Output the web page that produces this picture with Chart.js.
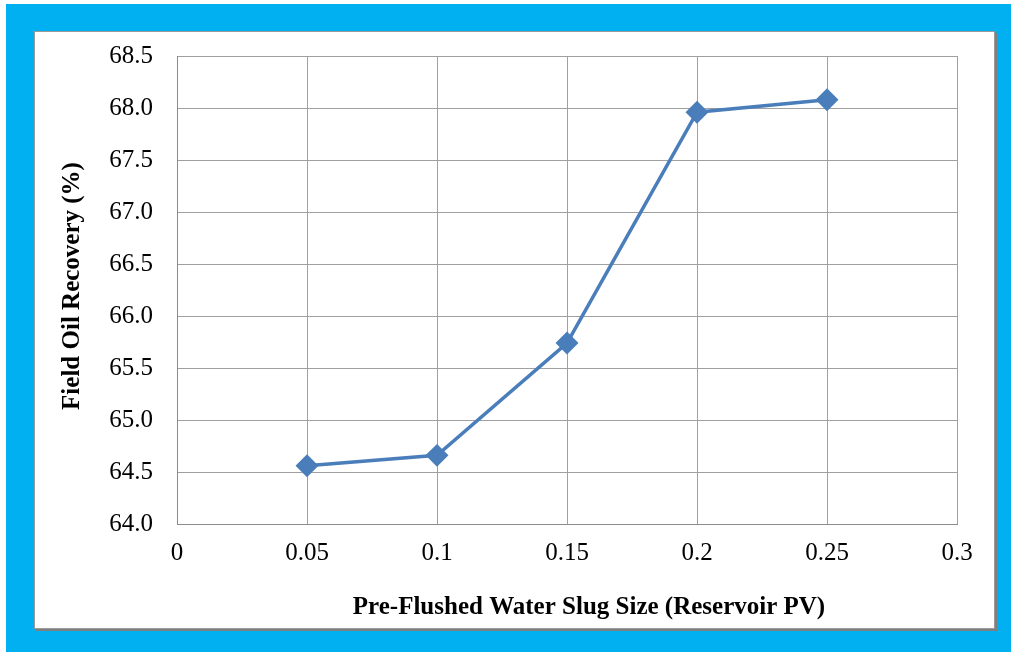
<!DOCTYPE html>
<html>
<head>
<meta charset="utf-8">
<script src="https://cdn.jsdelivr.net/npm/chart.js@4/dist/chart.umd.min.js"></script>
<style>
    html, body { margin: 0; padding: 0; background: #fff; }
    #frame {
        position: absolute; left: 6px; top: 4px; width: 1005px; height: 648px;
        background: #00B0F0;
    }
    #panel {
        position: absolute; left: 34px; top: 31px; width: 961px; height: 598px;
        background: #fff; box-sizing: border-box;
        border: 1px solid #9a9a9a;
        box-shadow: 2px 2px 0 #7f7f7f;
    }
    #chart-wrap { position: absolute; left: 34px; top: 31px; width: 961px; height: 598px; }
</style>
</head>
<body>
<div id="frame"></div>
<div id="panel"></div>
<div id="chart-wrap"><canvas id="chart-recovery"></canvas></div>
<script>
// slug size (reservoir PV) vs field oil recovery (%)
var slugSize = [0.05, 0.1, 0.15, 0.2, 0.25];
var recovery = [64.56, 64.66, 65.74, 67.96, 68.08];

var xTicks = [0, 0.05, 0.1, 0.15, 0.2, 0.25, 0.3];
var yTicks = [64.0, 64.5, 65.0, 65.5, 66.0, 66.5, 67.0, 67.5, 68.0, 68.5];

var xTitle = 'Pre-Flushed Water Slug Size (Reservoir PV)';
var yTitle = 'Field Oil Recovery (%)';

var serif = '"Liberation Serif", "Times New Roman", serif';

// axis titles drawn by hand, they sit off-centre in the original
var axisTitles = {
    id: 'axisTitles',
    afterDraw: function (chart) {
        var ctx = chart.ctx;
        var area = chart.chartArea;
        ctx.save();
        ctx.fillStyle = '#000';
        ctx.font = 'bold 25px ' + serif;
        ctx.textAlign = 'center';
        ctx.textBaseline = 'middle';
        ctx.fillText(xTitle, (area.left + area.right) / 2 + 22, area.bottom + 84);
        ctx.translate(39, (area.top + area.bottom) / 2 - 4);
        ctx.rotate(-Math.PI / 2);
        ctx.fillText(yTitle, 0, 0);
        ctx.restore();
    }
};

var ctx = document.getElementById('chart-recovery');
var myChart = new Chart(ctx, {
    type: 'scatter',
    data: {
        datasets: [{
            label: 'Recovery',
            data: slugSize.map(function (x, i) { return { x: x, y: recovery[i] }; }),
            showLine: true,
            borderColor: '#4A7EBB',
            backgroundColor: '#4A7EBB',
            borderWidth: 3.5,
            pointStyle: 'rectRot',
            pointRadius: 9,
            pointHoverRadius: 9,
            tension: 0
        }]
    },
    plugins: [axisTitles],
    options: {
        responsive: true,
        maintainAspectRatio: false,
        animation: false,
        layout: {
            padding: { left: 0, right: 38, top: 25, bottom: 0 }
        },
        plugins: {
            legend: { display: false },
            tooltip: { enabled: false }
        },
        scales: {
            x: {
                type: 'linear',
                min: 0,
                max: 0.3,
                afterBuildTicks: function (scale) {
                    scale.ticks = xTicks.map(function (v) { return { value: v }; });
                },
                afterFit: function (scale) {
                    scale.height = 105;
                    scale.paddingLeft = 0;
                    scale.paddingRight = 0;
                },
                ticks: {
                    color: '#000',
                    font: { family: serif, size: 25 },
                    padding: 14,
                    callback: function (v) { return String(v); }
                },
                grid: { color: '#a0a0a0', lineWidth: 1, drawTicks: false },
                border: { color: '#8c8c8c', width: 1 }
            },
            y: {
                min: 64.0,
                max: 68.5,
                afterBuildTicks: function (scale) {
                    scale.ticks = yTicks.map(function (v) { return { value: v }; });
                },
                afterFit: function (scale) {
                    scale.width = 143;
                    scale.paddingTop = 0;
                    scale.paddingBottom = 0;
                },
                ticks: {
                    color: '#000',
                    font: { family: serif, size: 25 },
                    padding: 24,
                    callback: function (v) { return Number(v).toFixed(1); }
                },
                grid: { color: '#a0a0a0', lineWidth: 1, drawTicks: false },
                border: { color: '#8c8c8c', width: 1 }
            }
        }
    }
});
</script>
</body>
</html>
